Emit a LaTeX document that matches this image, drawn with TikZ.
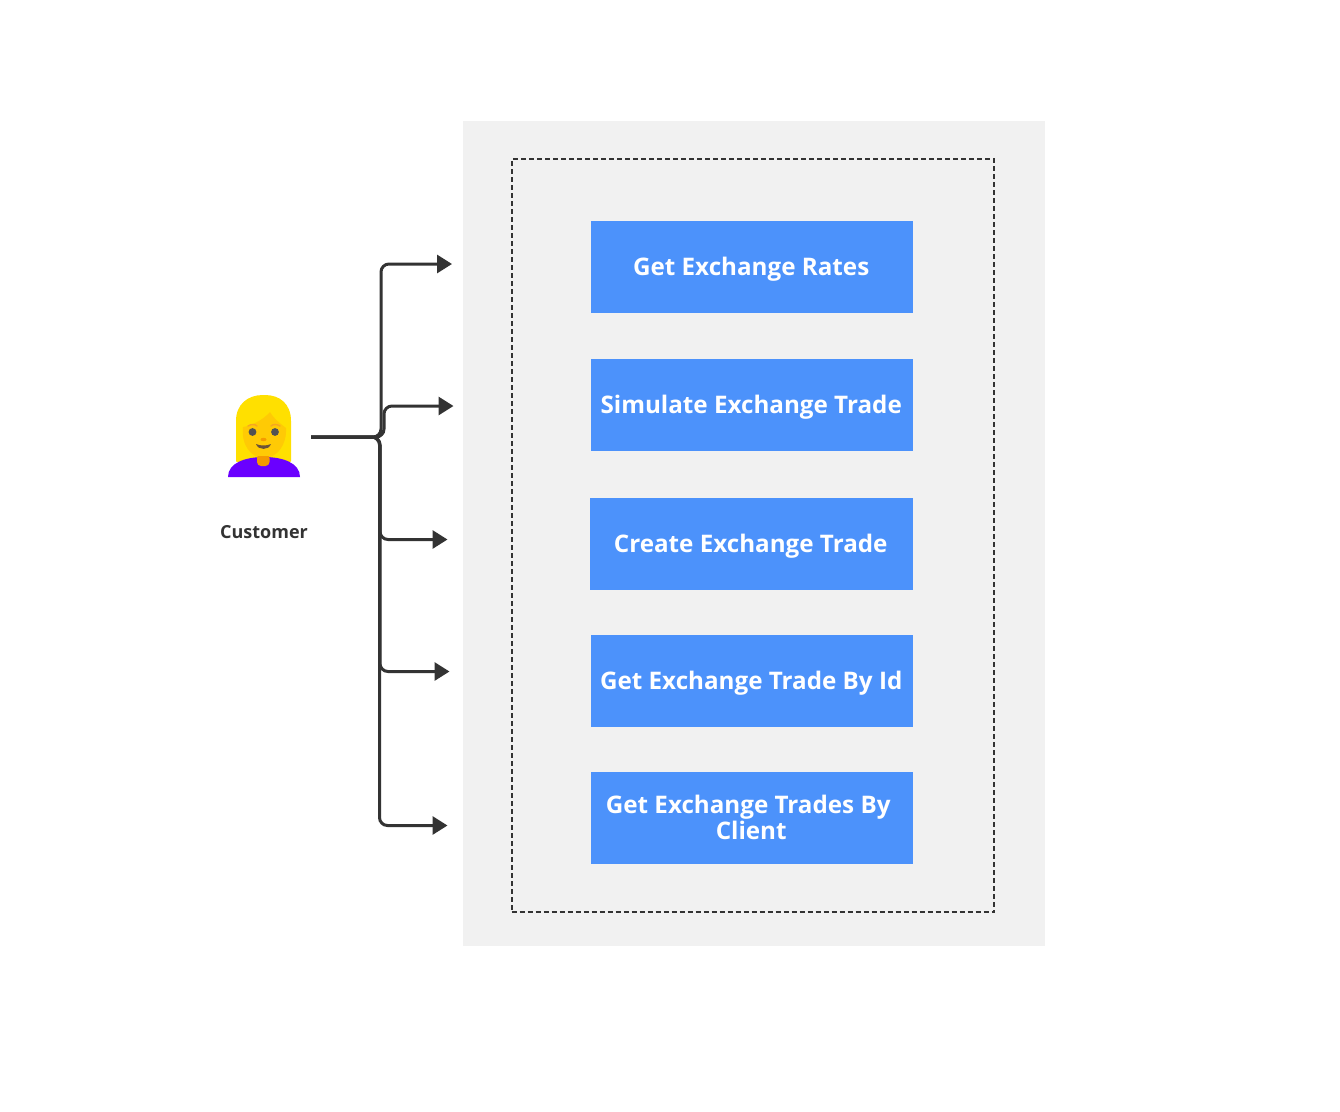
\documentclass[tikz,border=0pt]{standalone}
\usepackage{fontspec}
\setmainfont{Open Sans}
\usetikzlibrary{arrows.meta}
\definecolor{panel}{HTML}{F1F1F1}
\definecolor{ink}{HTML}{333333}
\definecolor{boxblue}{HTML}{4C92FB}
\definecolor{hairc}{HTML}{FFE000}
\definecolor{skin}{HTML}{FFCA05}
\definecolor{neck}{HTML}{F59A00}
\definecolor{shirt}{HTML}{6A00FF}
\definecolor{brow}{HTML}{F5A623}
\newcommand{\svct}[1]{\raisebox{-2.3pt}[\height][\depth]{\hspace*{-2pt}#1}}
\tikzset{
  x=1pt,y=-1pt,
  svc/.style={rectangle,draw=none,fill=boxblue,text=white,align=center,anchor=north west,inner sep=0pt,
    font=\fontsize{24.2}{26}\selectfont\bfseries},
  conn/.style={draw=ink,line width=3pt,rounded corners=8pt,-{Triangle[length=15pt,width=18pt]}},
  panelbox/.style={rectangle,fill=panel,draw=none,anchor=north west,inner sep=0pt},
  dashbox/.style={rectangle,draw=ink,line width=2pt,dash pattern=on 5pt off 3pt,anchor=north west,inner sep=0pt},
}
\begin{document}
\begin{tikzpicture}
\useasboundingbox (0,0) rectangle (1340,1111);
\fill[white] (0,0) rectangle (1340,1111);
\node[panelbox,minimum width=582pt,minimum height=825.5pt] (outer) at (463,120.5) {};
\node[dashbox,minimum width=482.5pt,minimum height=753pt] (inner) at (510.5,158) {};
\node[svc,minimum width=322pt,minimum height=92pt] (a) at (591,221) {\svct{Get Exchange Rates}};
\node[svc,minimum width=322pt,minimum height=92pt] (b) at (591,359) {\svct{Simulate Exchange Trade}};
\node[svc,minimum width=323pt,minimum height=92pt] (c) at (590,498) {\svct{Create Exchange Trade}};
\node[svc,minimum width=322pt,minimum height=92pt] (d) at (591,635) {\svct{Get Exchange Trade By Id}};
\node[svc,minimum width=322pt,minimum height=92pt] (e) at (591,772) {\raisebox{1pt}[\height][\depth]{\hspace*{-2pt}Get Exchange Trades By\hspace*{6pt}}\\\raisebox{1pt}[\height][\depth]{\hspace*{-2pt}Client}};
% person
\fill[hairc,rounded corners=1pt] (236,462) -- (236,422) .. controls (236,404) and (248,395) .. (264,395)
  .. controls (280,395) and (291,404) .. (291,422) -- (291,462) -- cycle;
\fill[skin] (243,427) .. controls (250,426) and (262,421) .. (270,412)
  .. controls (274,419) and (281,424) .. (286,428) .. controls (287,445) and (277,458) .. (264,458)
  .. controls (251,458) and (241,445) .. (243,427) -- cycle;
\fill[shirt] (228,477) .. controls (228,463) and (245,457) .. (264,457)
  .. controls (283,457) and (300,463) .. (300,477) -- cycle;
\fill[neck,rounded corners=4pt] (257,454) -- (269.5,454) -- (269.5,466) -- (257,466) -- cycle;
\fill[skin] (255,450) rectangle (272,456);
\draw[brow,line width=1.4pt,line cap=round] (248,426) .. controls (251,424) and (255,424) .. (257,426);
\draw[brow,line width=1.4pt,line cap=round] (271,426) .. controls (273,424) and (277,424) .. (280,426);
\fill[ink!85] (252.5,432) circle (3.9pt);
\fill[ink!85] (275,432) circle (3.9pt);
\fill[neck] (263.5,439.5) ellipse (3pt and 1.7pt);
\fill[ink!60!brown] (256,444) .. controls (260,446) and (267,446) .. (271,444)
  .. controls (269,450.5) and (258,450.5) .. (256,444) -- cycle;
\node[font=\fontsize{18}{20}\selectfont\bfseries,text=ink,inner sep=0pt] (cust) at (264,532) {Customer};
% connectors
\coordinate (src) at (311,437);
\coordinate (k1) at (381,264); \coordinate (e1) at (452,264);
\coordinate (k2) at (384,406); \coordinate (e2) at (453.5,406);
\coordinate (k3) at (380,539.5); \coordinate (e3) at (447.5,539.5);
\coordinate (k4) at (380,671.5); \coordinate (e4) at (449.5,671.5);
\coordinate (k5) at (379.5,825.5); \coordinate (e5) at (447.5,825.5);
\draw[conn] (src) -| (k1) -- (e1);
\draw[conn] (src) -| (k2) -- (e2);
\draw[conn] (src) -| (k3) -- (e3);
\draw[conn] (src) -| (k4) -- (e4);
\draw[conn] (src) -| (k5) -- (e5);
\end{tikzpicture}
\end{document}
